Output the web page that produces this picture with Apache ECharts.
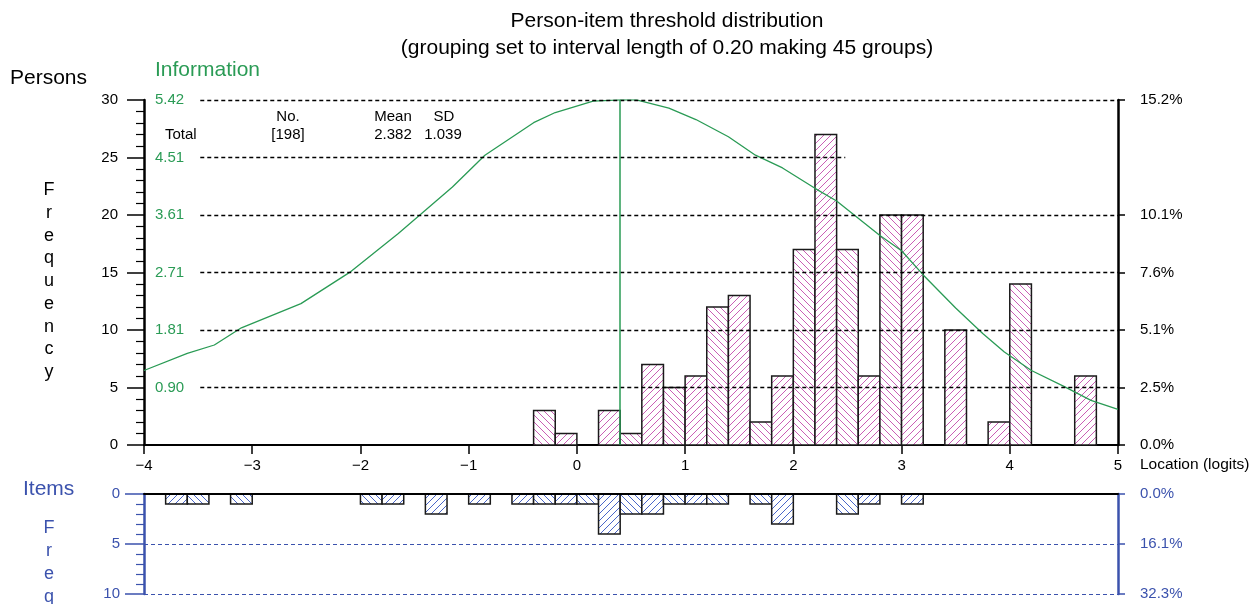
<!DOCTYPE html>
<html><head><meta charset="utf-8">
<script src="https://cdn.jsdelivr.net/npm/echarts@6/dist/echarts.min.js"></script>
<style>html,body{margin:0;padding:0;background:#fff}#c{width:1253px;height:604px}</style>
</head><body><div id="c"></div>
<script>
// ---------- data ----------
const binStart = -4;
const binWidth = 0.2;
const personBinLow = [-0.4,-0.2,0.2,0.4,0.6,0.8,1.0,1.2,1.4,1.6,1.8,2.0,2.2,2.4,2.6,2.8,3.0,3.4,3.8,4.0,4.6];
const personCounts = [3,1,3,1,7,5,6,12,13,2,6,17,27,17,6,20,20,10,2,14,6];
const itemBinLow = [-3.8,-3.6,-3.2,-2.0,-1.8,-1.4,-1.0,-0.6,-0.4,-0.2,0.0,0.2,0.4,0.6,0.8,1.0,1.2,1.6,1.8,2.4,2.6,3.0];
const itemCounts = [1,1,1,1,1,2,1,1,1,1,1,4,2,2,1,1,1,1,3,2,1,1];
const infoX = [-4.0,-3.6,-3.35,-3.1,-2.55,-2.1,-1.65,-1.15,-0.85,-0.4,-0.2,0.15,0.4,0.55,0.85,1.1,1.4,1.65,1.9,2.2,2.4,2.8,3.0,3.2,3.5,3.75,3.95,4.2,4.5,4.75,5.0];
const infoY = [1.17,1.44,1.57,1.84,2.22,2.71,3.32,4.05,4.55,5.06,5.22,5.40,5.42,5.42,5.29,5.11,4.84,4.55,4.35,4.03,3.83,3.29,3.05,2.67,2.15,1.75,1.46,1.17,0.92,0.70,0.56];
const infoMax = 5.4166;
const infoPeakX = 0.4;
const personGridLevels = [5,10,15,20,25,30];
const personGridEnds = [5,5,5,5,2.48,5];
const gridLineStartX = -3.48;
const rightPctTicks = [0,5,10,15,20,30];
const statHeads = ['No.','Mean','SD'];
const statRowLabel = 'Total';
const statVals = ['[198]','2.382','1.039'];
const titleLines = ['Person-item threshold distribution','(grouping set to interval length of 0.20 making 45 groups)'];

const personTotal = personCounts.reduce((a,b)=>a+b,0);
const itemTotal = itemCounts.reduce((a,b)=>a+b,0);

// ---------- styles ----------
const FONT = '"Liberation Sans", Arial, sans-serif';
const GREEN = '#2a9b55';
const BLUE = '#3b52ad';
const PINK = '#c95fb5';
const HBLUE = '#4a66c8';

function makePattern(color, dir) {
  const s = 7;
  const c = document.createElement('canvas');
  c.width = s; c.height = s;
  const g = c.getContext('2d');
  g.fillStyle = '#fff'; g.fillRect(0,0,s,s);
  g.strokeStyle = color; g.lineWidth = 1;
  g.beginPath();
  if (dir === '/') {
    g.moveTo(-1, s+1); g.lineTo(s+1, -1);
    g.moveTo(-1, 1); g.lineTo(1, -1);
    g.moveTo(s-1, s+1); g.lineTo(s+1, s-1);
  } else {
    g.moveTo(-1, -1); g.lineTo(s+1, s+1);
    g.moveTo(s-1, -1); g.lineTo(s+1, 1);
    g.moveTo(-1, s-1); g.lineTo(1, s+1);
  }
  g.stroke();
  return {image: c, repeat: 'repeat'};
}
const pinkSlash = makePattern(PINK, '/');
const pinkBack = makePattern(PINK, '\\');
const blueSlash = makePattern(HBLUE, '/');
const blueBack = makePattern(HBLUE, '\\');

function histData(lows, counts) {
  return lows.map((l,i)=>[l, counts[i], Math.round((l-binStart)/binWidth)]);
}
function makeRender(pSlash, pBack) {
  return function(params, api) {
    const x0 = api.value(0), v = api.value(1), idx = api.value(2);
    const a = api.coord([x0, 0]);
    const b = api.coord([x0 + binWidth, v]);
    return {
      type: 'rect',
      shape: {x: a[0], y: Math.min(a[1], b[1]), width: b[0]-a[0], height: Math.abs(b[1]-a[1])},
      style: {fill: (idx % 2) ? pSlash : pBack, stroke: '#1a1a1a', lineWidth: 1.5}
    };
  };
}

const chart = echarts.init(document.getElementById('c'), null, {renderer: 'canvas'});

const gridMarkData = personGridLevels.map((lv,i)=>[{coord:[gridLineStartX, lv]},{coord:[personGridEnds[i], lv]}]);
const vertLetters = (s)=>s.split('').join('\n');
const LBL = 15;

const option = {
  animation: false,
  textStyle: {fontFamily: FONT},
  grid: [
    {left: 144, right: 135, top: 100, height: 345},
    {left: 144, right: 135, top: 494, height: 100}
  ],
  xAxis: [
    {type:'value', gridIndex:0, min:-4, max:5, interval:1,
     axisLine:{onZero:false, lineStyle:{color:'#000', width:2}},
     axisTick:{length:9, lineStyle:{color:'#000', width:1.5}},
     axisLabel:{color:'#000', fontSize:LBL, margin:13, fontFamily:FONT, formatter:v=>String(v).replace('-','\u2212')},
     splitLine:{show:false}},
    {type:'value', gridIndex:1, min:-4, max:5, interval:1, position:'top',
     axisLine:{onZero:false, lineStyle:{color:'#000', width:2}}, axisTick:{show:false}, axisLabel:{show:false}, splitLine:{show:false}, z:5}
  ],
  yAxis: [
    {type:'value', gridIndex:0, position:'left', min:0, max:30, interval:5,
     axisLine:{show:true, onZero:false, lineStyle:{color:'#000', width:2.5}},
     axisTick:{show:true, length:17, lineStyle:{color:'#000', width:1.5}},
     minorTick:{show:true, splitNumber:5, length:8, lineStyle:{color:'#000', width:1.2}},
     axisLabel:{color:'#000', fontSize:LBL, margin:26, fontFamily:FONT},
     splitLine:{show:false}},
    {type:'value', gridIndex:0, position:'right', min:0, max:30, interval:5,
     axisLine:{show:true, onZero:false, lineStyle:{color:'#000', width:2.5}},
     axisTick:{show:true, length:7, customValues: rightPctTicks, lineStyle:{color:'#000', width:1.5}},
     axisLabel:{color:'#000', fontSize:LBL, margin:22, fontFamily:FONT, customValues: rightPctTicks,
       formatter:v=> rightPctTicks.indexOf(v) < 0 ? '' : (v/personTotal*100).toFixed(1)+'%'},
     splitLine:{show:false}},
    {type:'value', gridIndex:0, position:'left', min:0, max:infoMax, interval:infoMax/6,
     axisLine:{show:false, onZero:false}, axisTick:{show:false},
     axisLabel:{inside:true, showMinLabel:false, color:GREEN, fontSize:LBL, margin:11, fontFamily:FONT,
       formatter:v=> v === 0 ? '' : v.toFixed(2)},
     splitLine:{show:false}},
    {type:'value', gridIndex:1, position:'left', min:0, max:10, interval:5, inverse:true,
     axisLine:{show:true, onZero:false, lineStyle:{color:BLUE, width:2.5}},
     axisTick:{show:true, length:19, lineStyle:{color:BLUE, width:1.5}},
     minorTick:{show:true, splitNumber:5, length:8, lineStyle:{color:BLUE, width:1.2}},
     axisLabel:{color:BLUE, fontSize:LBL, margin:24, fontFamily:FONT},
     splitLine:{show:true, showMinLine:false, lineStyle:{color:BLUE, type:[4,3], width:1.2}}},
    {type:'value', gridIndex:1, position:'right', min:0, max:10, interval:5, inverse:true,
     axisLine:{show:true, onZero:false, lineStyle:{color:BLUE, width:2.5}},
     axisTick:{show:true, length:7, lineStyle:{color:BLUE, width:1.5}},
     axisLabel:{color:BLUE, fontSize:LBL, margin:22, fontFamily:FONT, formatter:v=>(v/itemTotal*100).toFixed(1)+'%'},
     splitLine:{show:false}}
  ],
  series: [
    {type:'line', xAxisIndex:0, yAxisIndex:0, data:[], silent:true,
     markLine:{silent:true, symbol:'none', label:{show:false},
       lineStyle:{color:'#000', type:[4,3], width:1.3}, data: gridMarkData}},
    {type:'custom', xAxisIndex:0, yAxisIndex:0, renderItem: makeRender(pinkSlash, pinkBack),
     encode:{x:0, y:1}, data: histData(personBinLow, personCounts), z:3},
    {type:'custom', xAxisIndex:1, yAxisIndex:3, renderItem: makeRender(blueSlash, blueBack),
     encode:{x:0, y:1}, data: histData(itemBinLow, itemCounts), z:3},
    {type:'line', xAxisIndex:0, yAxisIndex:2, data: infoX.map((x,i)=>[x, infoY[i]]),
     symbol:'none', lineStyle:{color:GREEN, width:1.3}, z:4,
     markLine:{silent:true, symbol:'none', label:{show:false},
       lineStyle:{color:GREEN, type:'solid', width:1.5}, data:[{xAxis: infoPeakX}]}}
  ],
  graphic: [
    {type:'text', x:667, y:11, style:{text:titleLines[0], font:'21px '+FONT, fill:'#000', align:'center'}},
    {type:'text', x:667, y:38, style:{text:titleLines[1], font:'21px '+FONT, fill:'#000', align:'center'}},
    {type:'text', x:10, y:68, style:{text:'Persons', font:'21px '+FONT, fill:'#000'}},
    {type:'text', x:155, y:60, style:{text:'Information', font:'21px '+FONT, fill:GREEN}},
    {type:'text', x:49, y:179, style:{text:vertLetters('Frequency'), font:'18px '+FONT, fill:'#000', align:'center', lineHeight:22.7}},
    {type:'text', x:23, y:479, style:{text:'Items', font:'21px '+FONT, fill:BLUE}},
    {type:'text', x:49, y:517, style:{text:vertLetters('Freq'), font:'18px '+FONT, fill:BLUE, align:'center', lineHeight:23}},
    {type:'text', x:1140, y:457, style:{text:'Location (logits)', font:'15.5px '+FONT, fill:'#000'}},
    {type:'text', x:288, y:109, style:{text:statHeads[0], font:'15px '+FONT, fill:'#000', align:'center'}},
    {type:'text', x:393, y:109, style:{text:statHeads[1], font:'15px '+FONT, fill:'#000', align:'center'}},
    {type:'text', x:444, y:109, style:{text:statHeads[2], font:'15px '+FONT, fill:'#000', align:'center'}},
    {type:'text', x:165, y:127, style:{text:statRowLabel, font:'15px '+FONT, fill:'#000'}},
    {type:'text', x:288, y:127, style:{text:statVals[0], font:'15px '+FONT, fill:'#000', align:'center'}},
    {type:'text', x:393, y:127, style:{text:statVals[1], font:'15px '+FONT, fill:'#000', align:'center'}},
    {type:'text', x:443, y:127, style:{text:statVals[2], font:'15px '+FONT, fill:'#000', align:'center'}}
  ]
};
chart.setOption(option);
</script>
</body></html>
